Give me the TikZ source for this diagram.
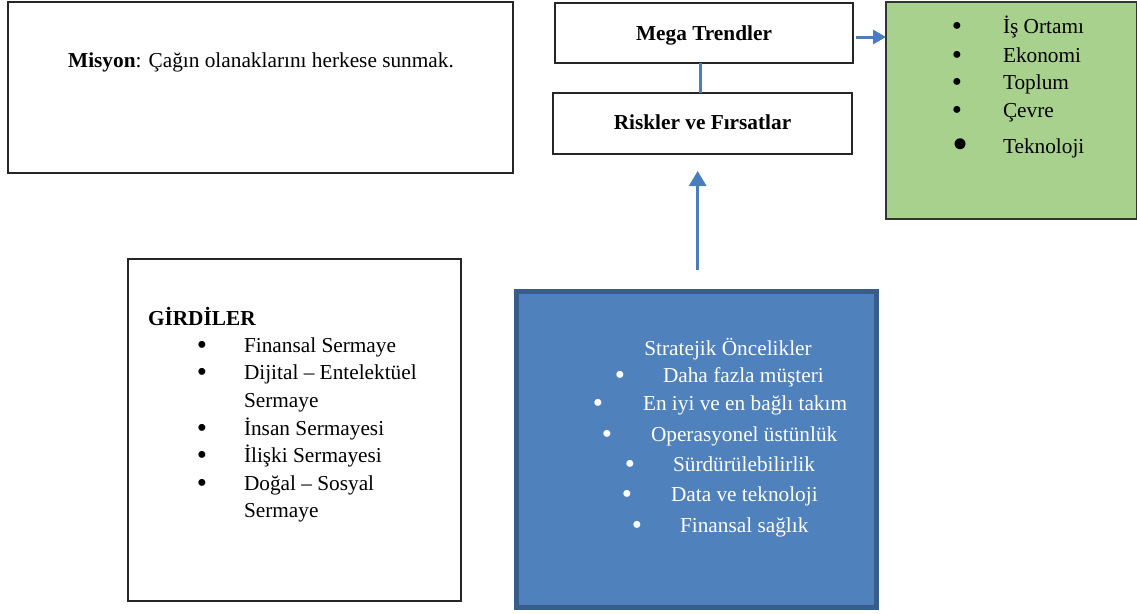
\documentclass[tikz,border=0pt]{standalone}
\usepackage{fontspec}
\setmainfont{Liberation Serif}
\usetikzlibrary{arrows.meta}
\definecolor{arrowblue}{HTML}{4A7EBB}
\definecolor{boxgreen}{HTML}{A9D18E}
\definecolor{boxblue}{HTML}{4F81BD}
\definecolor{boxblueborder}{HTML}{385D8A}
\begin{document}
\begin{tikzpicture}[x=1pt,y=-1pt,
  every node/.style={font=\fontsize{21.3}{28}\selectfont, inner sep=0pt, outer sep=0pt},
  plainbox/.style={draw=black!85, line width=1.2pt, fill=white},
  txt/.style={anchor=base west},
  ctxt/.style={anchor=base},
  bul/.style={anchor=base, font=\fontsize{29}{29}\selectfont, yshift=-2.7pt},
  conn/.style={draw=arrowblue, line width=3pt},
  link/.style={draw=arrowblue, line width=2.5pt}]
\useasboundingbox (0,0) rectangle (1137,613);

% Mission box
\node[plainbox, minimum width=505pt, minimum height=171pt] (misyon) at (260.5,87.5) {};
\node[ctxt] (misyontxt) at (261,67) {\textbf{Misyon}: Çağın olanaklarını herkese sunmak.};

% Mega Trendler & Riskler
\node[plainbox, minimum width=298pt, minimum height=60pt] (mega) at (704,33) {};
\node[ctxt] (megatxt) at (704,40) {\textbf{Mega Trendler}};
\node[plainbox, minimum width=299pt, minimum height=61pt] (risk) at (702.5,123.5) {};
\node[ctxt] (risktxt) at (702.5,129) {\textbf{Riskler ve Fırsatlar}};

% Green box
\node[draw=black!80, line width=1.2pt, fill=boxgreen, minimum width=251pt, minimum height=217pt] (green) at (1011.5,110.5) {};
\node[bul] (gb1) at (957,33) {•};  \node[txt] (g1) at (1003,33) {İş Ortamı};
\node[bul] (gb2) at (957,62) {•};  \node[txt] (g2) at (1003,62) {Ekonomi};
\node[bul] (gb3) at (957,89) {•};  \node[txt] (g3) at (1003,89) {Toplum};
\node[bul] (gb4) at (957,117) {•}; \node[txt] (g4) at (1003,117) {Çevre};
\node[anchor=base, font=\fontsize{46}{46}\selectfont] (gb5) at (961,159) {•}; \node[txt] (g5) at (1003,153) {Teknoloji};

% Girdiler box
\node[plainbox, minimum width=333pt, minimum height=342pt] (girdi) at (294.5,430) {};
\node[txt] (girditxt) at (148,325) {\textbf{GİRDİLER}};
\node[bul] (ib1) at (202,352) {•}; \node[txt] (i1) at (244,352) {Finansal Sermaye};
\node[bul] (ib2) at (202,379) {•}; \node[txt] (i2) at (244,379) {Dijital – Entelektüel};
\node[txt] (i2b) at (244,407) {Sermaye};
\node[bul] (ib3) at (202,435) {•}; \node[txt] (i3) at (244,435) {İnsan Sermayesi};
\node[bul] (ib4) at (202,462) {•}; \node[txt] (i4) at (244,462) {İlişki Sermayesi};
\node[bul] (ib5) at (202,490) {•}; \node[txt] (i5) at (244,490) {Doğal – Sosyal};
\node[txt] (i5b) at (244,517) {Sermaye};

% Blue box
\node[draw=boxblueborder, line width=5pt, fill=boxblue, minimum width=360pt, minimum height=316pt] (blue) at (696.5,449.5) {};
\begin{scope}[every node/.append style={text=white}]
\node[ctxt] (btitle) at (728,355) {Stratejik Öncelikler};
\node[bul] (bb1) at (620,382) {•}; \node[txt] (b1) at (663,382) {Daha fazla müşteri};
\node[bul] (bb2) at (598,410) {•}; \node[txt] (b2) at (643,410) {En iyi ve en bağlı takım};
\node[bul] (bb3) at (607,441) {•}; \node[txt] (b3) at (651,441) {Operasyonel üstünlük};
\node[bul] (bb4) at (630,471) {•}; \node[txt] (b4) at (673,471) {Sürdürülebilirlik};
\node[bul] (bb5) at (627,501) {•}; \node[txt] (b5) at (671,501) {Data ve teknoloji};
\node[bul] (bb6) at (637,532) {•}; \node[txt] (b6) at (680,532) {Finansal sağlık};
\end{scope}

% Connectors
\draw[link] (risk.north -| 700.7,0) -- (mega.south -| 700.7,0);
\draw[conn, -{Triangle[length=13pt,width=14pt]}] ([xshift=3pt,yshift=-4pt]mega.east) -- ([yshift=-4pt]mega.east -| green.west);
\coordinate (upstart) at (697.7,270);
\draw[conn, -{Triangle[length=15pt,width=17pt]}] (upstart) -- ([yshift=-17pt]risk.south -| upstart);
\end{tikzpicture}
\end{document}
